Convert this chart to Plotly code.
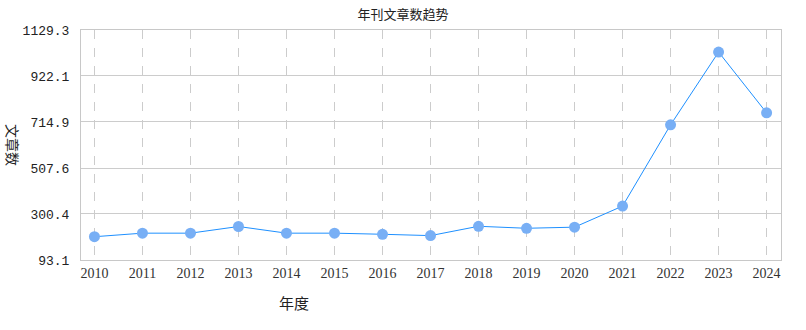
import plotly.graph_objects as go

years = [2010, 2011, 2012, 2013, 2014, 2015, 2016, 2017, 2018, 2019, 2020, 2021, 2022, 2023, 2024]
counts = [198, 214, 214, 244, 214, 214, 209, 203, 245, 236, 241, 336, 702, 1030, 756]
y_ticks = [93.1, 300.4, 507.6, 714.9, 922.1, 1129.3]
y_tick_text = ["93.1", "300.4", "507.6", "714.9", "922.1", "1129.3"]

fig = go.Figure()
fig.add_trace(go.Scatter(
    x=years, y=counts, mode="lines+markers",
    line=dict(color="#1e90ff", width=1),
    marker=dict(color="#78aff5", size=11),
    hoverinfo="x+y", showlegend=False,
))

fig.update_layout(
    width=806, height=330,
    margin=dict(l=81, r=25, t=30, b=70),
    paper_bgcolor="white", plot_bgcolor="white",
    title=dict(text="年刊文章数趋势", x=0.5, xanchor="center", y=0.955, yanchor="middle",
               font=dict(family="Noto Sans CJK SC", size=13, color="#222")),
    xaxis=dict(
        range=[2009.72, 2024.3], tickmode="array", tickvals=years,
        ticktext=[str(y) for y in years],
        showgrid=True, gridcolor="#cccccc", griddash="dash", gridwidth=1,
        showline=True, linecolor="#c8c8c8", mirror=True, zeroline=False,
        ticks="", tickfont=dict(family="Liberation Serif", size=14, color="#333"),
    ),
    yaxis=dict(
        range=[93.1, 1129.3], tickmode="array", tickvals=y_ticks, ticktext=y_tick_text,
        showgrid=True, gridcolor="#cccccc", gridwidth=1,
        showline=True, linecolor="#c8c8c8", mirror=True, zeroline=False,
        ticks="", ticklabelstandoff=8,
        tickfont=dict(family="Liberation Mono", size=13, color="#222"),
    ),
    annotations=[
        dict(text="文章数", textangle=90, xref="paper", yref="paper", x=-0.097, y=0.5,
             xanchor="center", yanchor="middle", showarrow=False,
             font=dict(family="Noto Sans CJK SC", size=14, color="#222")),
        dict(text="年度", xref="paper", yref="paper", x=0.304, y=-0.183,
             xanchor="center", yanchor="middle", showarrow=False,
             font=dict(family="Noto Sans CJK SC", size=15, color="#222")),
    ],
)

fig.write_html("out.html")
